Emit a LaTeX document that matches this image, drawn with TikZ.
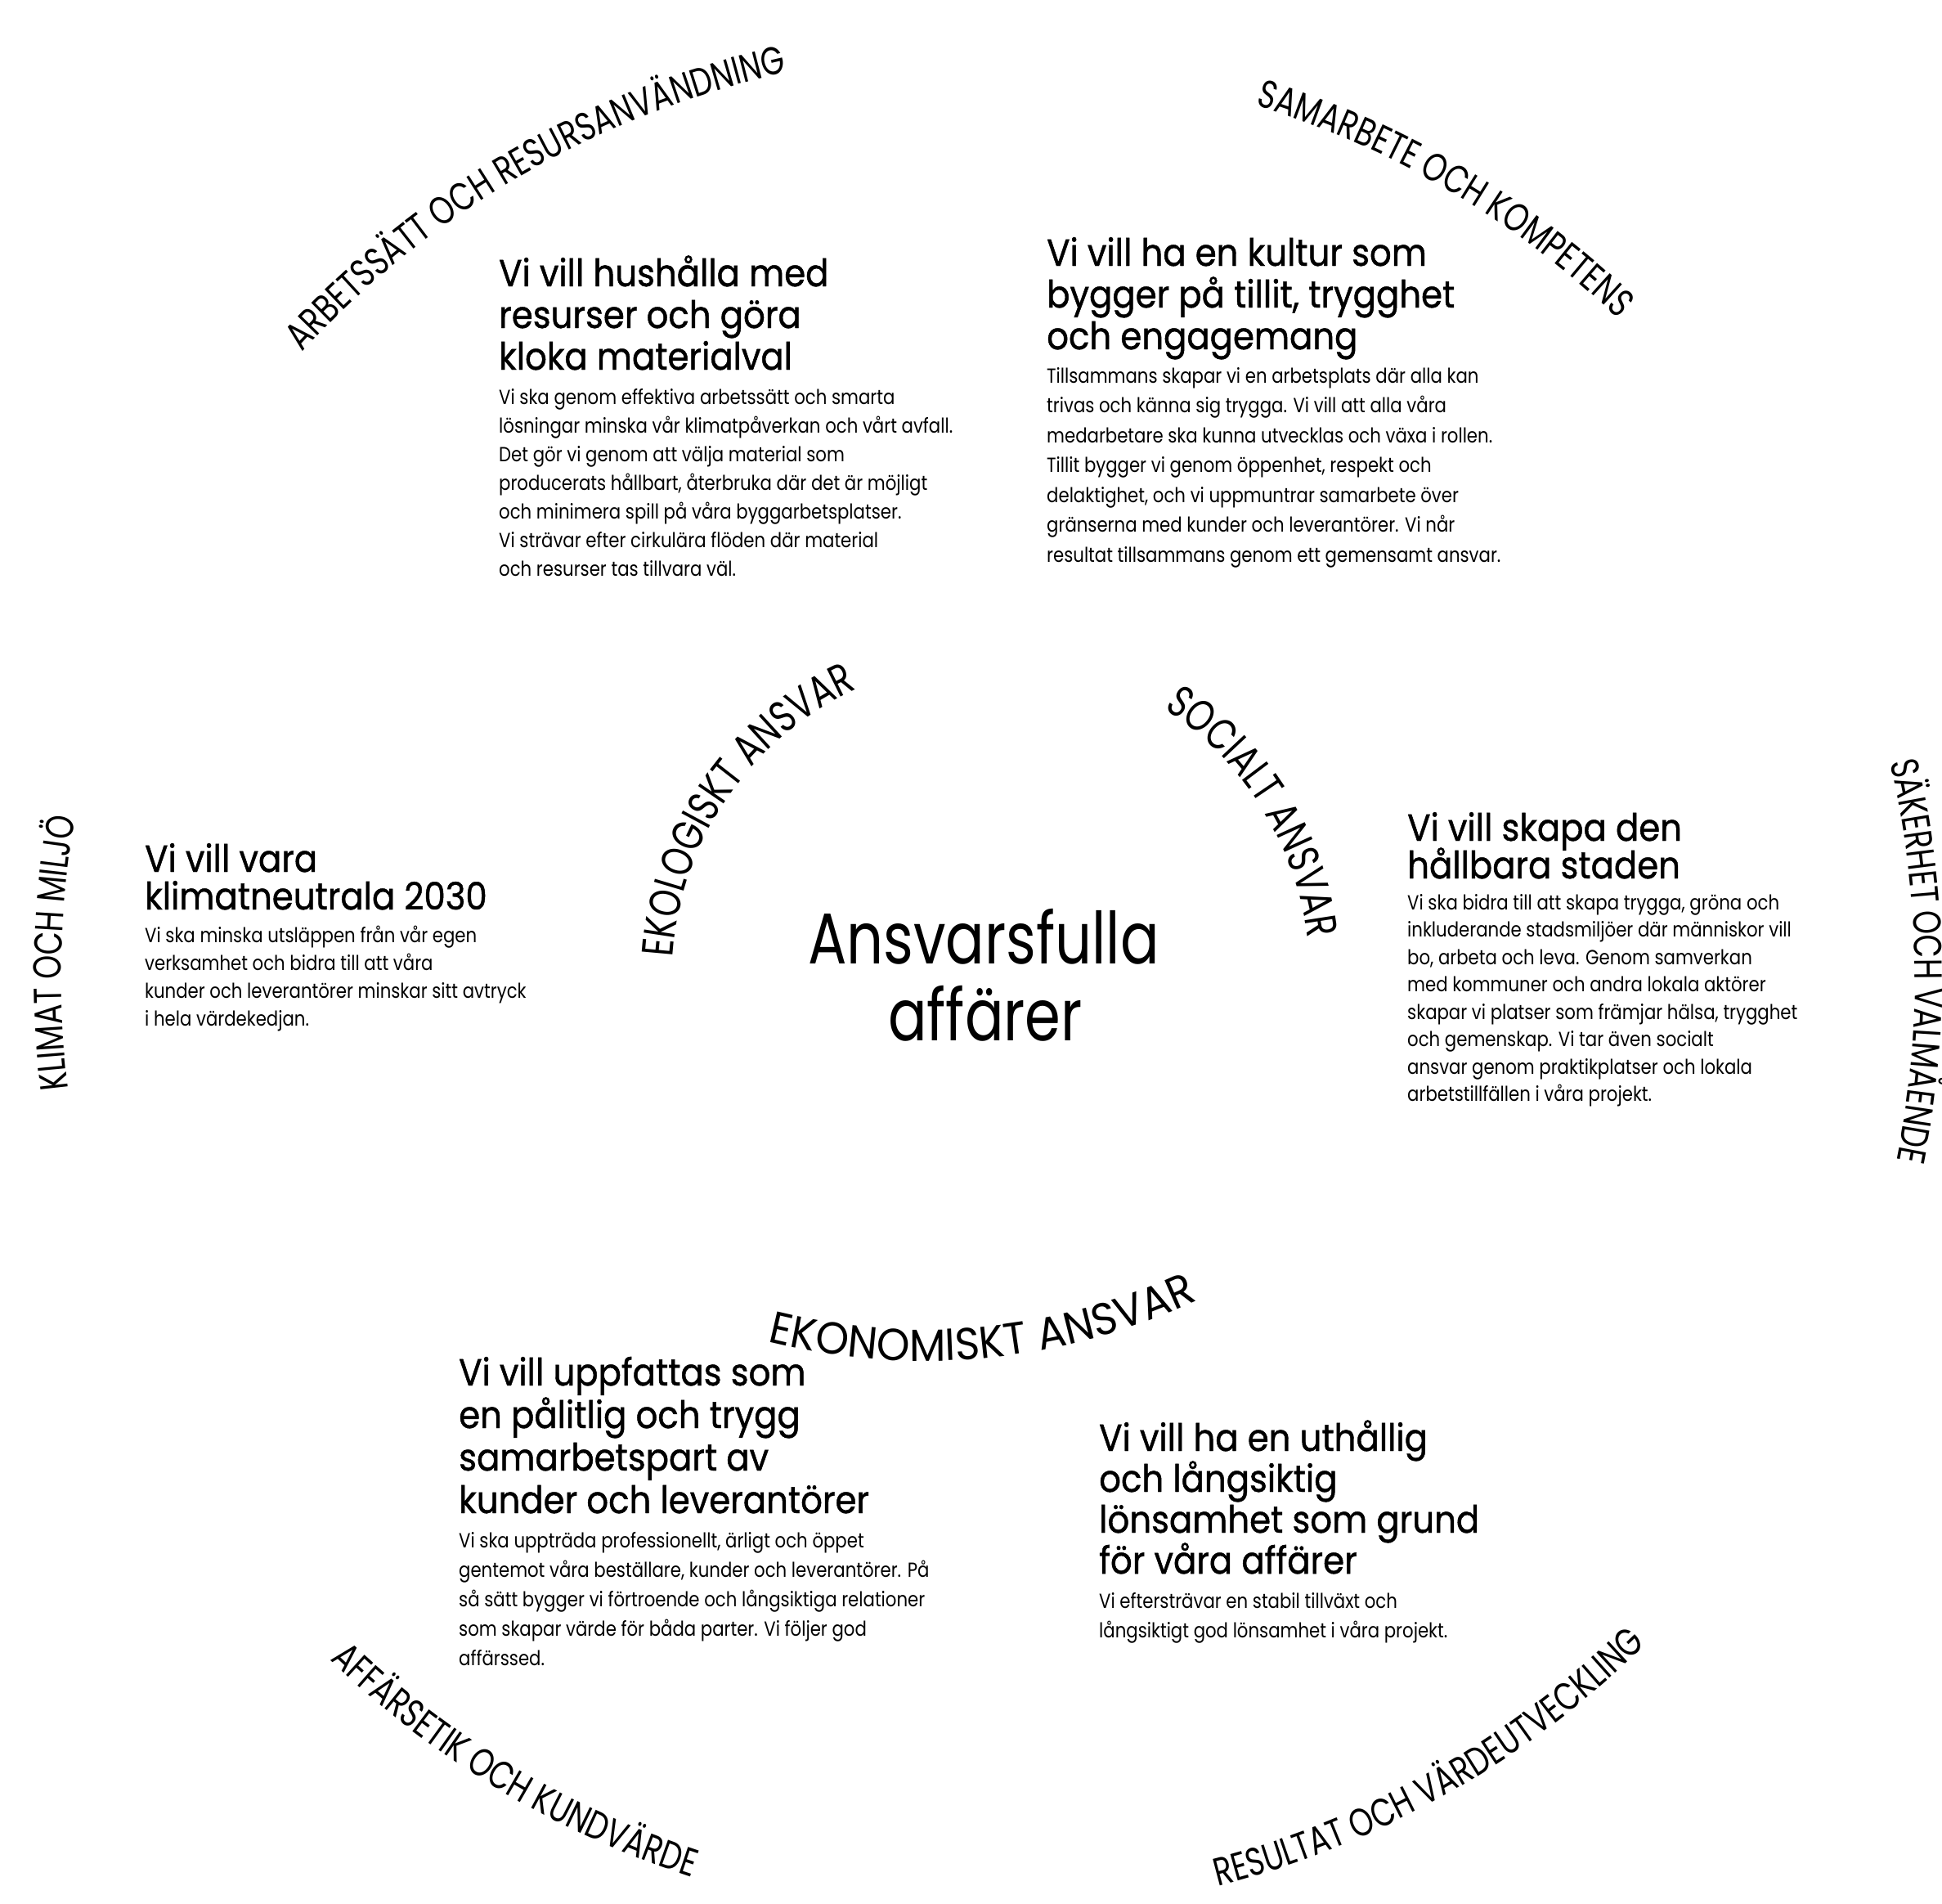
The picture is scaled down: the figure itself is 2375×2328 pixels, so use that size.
\documentclass[tikz,border=0pt]{standalone}
\usepackage{fontspec}
\setmainfont{Poppins}
\newfontfamily\headfam{Poppins}[FakeStretch=0.91,FakeBold=1]
\newfontfamily\bodyfam{Poppins}[FakeStretch=0.85]
\newfontfamily\labfam{Poppins}[FakeStretch=0.77]
\newfontfamily\ekfam{Poppins}[FakeStretch=0.94]
\newfontfamily\midfam{Poppins}[FakeStretch=0.8]
\usetikzlibrary{decorations.text}
\newcommand\outlab{\labfam\fontsize{48}{48}\selectfont}
\newcommand\inlab{\labfam\fontsize{54}{54}\selectfont}
\newcommand\eklab{\ekfam\fontsize{55}{55}\selectfont}
\tikzset{
  hd/.style={font=\headfam\fontsize{46}{51}\selectfont, anchor=base west, inner sep=0pt},
  bd/.style={font=\bodyfam\fontsize{25}{35}\selectfont, anchor=base west, inner sep=0pt},
  midtext/.style={font=\midfam\fontsize{88}{96}\selectfont, anchor=base, inner sep=0pt},
  outring/.style={decorate, decoration={text along path, text align=center, text={|\outlab|#1}}},
  inring/.style={decorate, decoration={text along path, text align=center, text={|\inlab|#1}}},
  ekring/.style={decorate, decoration={text along path, text align=center, text={|\eklab|#1}}}
}
\begin{document}
\begin{tikzpicture}[x=1pt,y=1pt]
\fill[white] (0,0) rectangle (2375,-2328);
\useasboundingbox (0,0) rectangle (2375,-2328);
\coordinate (Oout) at (1206,-1195);
\coordinate (Oin) at (1210,-1195);
\coordinate (Oek) at (1130,-870);

% outer ring labels
\path[outring={ARBETSSÄTT OCH RESURSANVÄNDNING}] ([shift={(145:1133)}]Oout) arc[start angle=145, end angle=95, radius=1133];
\path[outring={SAMARBETE OCH KOMPETENS}] ([shift={(82:1116)}]Oout) arc[start angle=82, end angle=37, radius=1116];
\path[outring={SÄKERHET OCH VÄLMÅENDE}] ([shift={(22:1136)}]Oout) arc[start angle=22, end angle=-20, radius=1136];
\path[outring={RESULTAT OCH VÄRDEUTVECKLING}] ([shift={(277:1147)}]Oout) arc[start angle=277, end angle=322, radius=1147];
\path[outring={AFFÄRSETIK OCH KUNDVÄRDE}] ([shift={(218:1158)}]Oout) arc[start angle=218, end angle=260, radius=1158];
\path[outring={KLIMAT OCH MILJÖ}] ([shift={(193:1131)}]Oout) arc[start angle=193, end angle=164, radius=1131];

% inner ring labels
\path[inring={EKOLOGISKT ANSVAR}] ([shift={(190:388)}]Oin) arc[start angle=190, end angle=101, radius=388];
\path[inring={SOCIALT ANSVAR}] ([shift={(77:392)}]Oin) arc[start angle=77, end angle=-13, radius=392];
\path[ekring={EKONOMISKT ANSVAR}] ([shift={(244:794)}]Oek) arc[start angle=244, end angle=307, radius=794];

% centre
\node[midtext] (mid1) at (1203,-1178) {Ansvarsfulla};
\node[midtext] (mid2) at (1205,-1272) {affärer};

% block A
\foreach \t [count=\i] in {Vi vill hushålla med, resurser och göra, kloka materialval}
  \node[hd] (A-h\i) at (610,{-350-51*(\i-1)}) {\t};
\foreach \t [count=\i] in {{Vi ska genom effektiva arbetssätt och smarta},
  {lösningar minska vår klimatpåverkan och vårt avfall.},
  {Det gör vi genom att välja material som},
  {producerats hållbart, återbruka där det är möjligt},
  {och minimera spill på våra byggarbetsplatser.},
  {Vi strävar efter cirkulära flöden där material},
  {och resurser tas tillvara väl.}}
  \node[bd] (A-b\i) at (610,{-494-35*(\i-1)}) {\t};

% block B
\foreach \t [count=\i] in {Vi vill ha en kultur som, {bygger på tillit, trygghet}, och engagemang}
  \node[hd] (B-h\i) at (1280,{-325-51*(\i-1)}) {\t};
\foreach \t [count=\i] in {{Tillsammans skapar vi en arbetsplats där alla kan},
  {trivas och känna sig trygga. Vi vill att alla våra},
  {medarbetare ska kunna utvecklas och växa i rollen.},
  {Tillit bygger vi genom öppenhet, respekt och},
  {delaktighet, och vi uppmuntrar samarbete över},
  {gränserna med kunder och leverantörer. Vi når},
  {resultat tillsammans genom ett gemensamt ansvar.}}
  \node[bd] (B-b\i) at (1280,{-468-36.5*(\i-1)}) {\t};

% block E
\foreach \t [count=\i] in {Vi vill vara, klimatneutrala 2030}
  \node[hd] (E-h\i) at (177,{-1066-46*(\i-1)}) {\t};
\foreach \t [count=\i] in {{Vi ska minska utsläppen från vår egen},
  {verksamhet och bidra till att våra},
  {kunder och leverantörer minskar sitt avtryck},
  {i hela värdekedjan.}}
  \node[bd] (E-b\i) at (177,{-1152-34*(\i-1)}) {\t};

% block F
\foreach \t [count=\i] in {Vi vill skapa den, hållbara staden}
  \node[hd] (F-h\i) at (1721,{-1028-46*(\i-1)}) {\t};
\foreach \t [count=\i] in {{Vi ska bidra till att skapa trygga, gröna och},
  {inkluderande stadsmiljöer där människor vill},
  {bo, arbeta och leva. Genom samverkan},
  {med kommuner och andra lokala aktörer},
  {skapar vi platser som främjar hälsa, trygghet},
  {och gemenskap. Vi tar även socialt},
  {ansvar genom praktikplatser och lokala},
  {arbetstillfällen i våra projekt.}}
  \node[bd] (F-b\i) at (1721,{-1112-33.5*(\i-1)}) {\t};

% block C
\foreach \t [count=\i] in {Vi vill uppfattas som, en pålitlig och trygg, samarbetspart av, kunder och leverantörer}
  \node[hd] (C-h\i) at (561,{-1694-52*(\i-1)}) {\t};
\foreach \t [count=\i] in {{Vi ska uppträda professionellt, ärligt och öppet},
  {gentemot våra beställare, kunder och leverantörer. På},
  {så sätt bygger vi förtroende och långsiktiga relationer},
  {som skapar värde för båda parter. Vi följer god},
  {affärssed.}}
  \node[bd] (C-b\i) at (561,{-1892-36*(\i-1)}) {\t};

% block D
\foreach \t [count=\i] in {Vi vill ha en uthållig, och långsiktig, lönsamhet som grund, för våra affärer}
  \node[hd] (D-h\i) at (1344,{-1774-50*(\i-1)}) {\t};
\foreach \t [count=\i] in {{Vi eftersträvar en stabil tillväxt och},
  {långsiktigt god lönsamhet i våra projekt.}}
  \node[bd] (D-b\i) at (1344,{-1966-36*(\i-1)}) {\t};
\end{tikzpicture}
\end{document}
